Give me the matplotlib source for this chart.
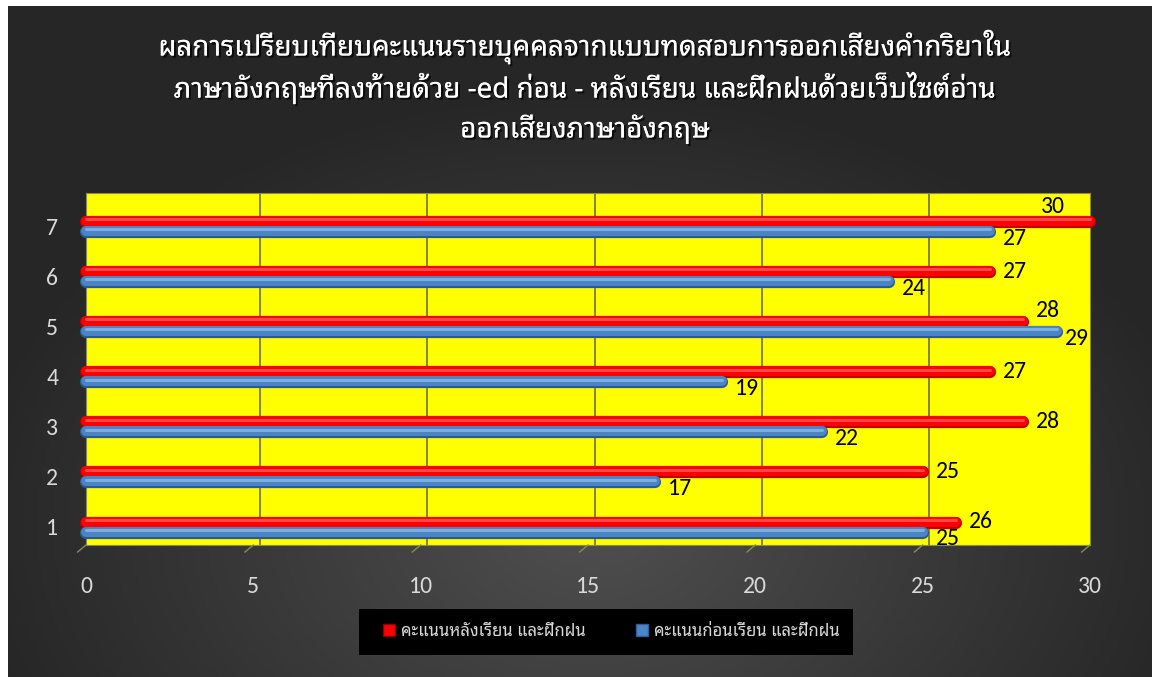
import matplotlib
matplotlib.use("Agg")
import matplotlib.pyplot as plt
import matplotlib.patheffects as pe
from matplotlib.patches import Rectangle
from matplotlib.lines import Line2D
import numpy as np
from matplotlib import font_manager

available = set(f.name for f in font_manager.fontManager.ttflist)


def pick(cands, default="DejaVu Sans"):
    for c in cands:
        if c in available:
            return c
    return default


thai_font = pick(["Noto Sans Thai Looped", "IBM Plex Sans Thai Looped", "Noto Sans Thai", "Sarabun", "Anuphan"])
num_font = pick(["Carlito", "Calibri", "Open Sans"])

# data
categories = [1, 2, 3, 4, 5, 6, 7]
after_scores = [26, 25, 28, 27, 28, 27, 30]    # red
before_scores = [25, 17, 22, 19, 29, 24, 27]   # blue
xticks = [0, 5, 10, 15, 20, 25, 30]
title_lines = [
    "ผลการเปรียบเทียบคะแนนรายบุคคลจากแบบทดสอบการออกเสียงคำกริยาใน",
    "ภาษาอังกฤษที่ลงท้ายด้วย -ed ก่อน - หลังเรียน และฝึกฝนด้วยเว็บไซต์อ่าน",
    "ออกเสียงภาษาอังกฤษ",
]
label_after = "คะแนนหลังเรียน และฝึกฝน"
label_before = "คะแนนก่อนเรียน และฝึกฝน"

W, H = 1152, 677
fig = plt.figure(figsize=(W / 100, H / 100), dpi=100)
fig.patch.set_facecolor("white")

# dark radial background
bg = fig.add_axes([8 / W, 0, (W - 8) / W, (H - 6) / H])
gx, gy = np.meshgrid(np.linspace(-1, 1, 300), np.linspace(-1, 1, 200))
r = np.sqrt(((gx - 0.02) / 1.1) ** 2 + ((gy + 0.55) / 1.3) ** 2)
r = np.clip(r, 0, 1)
shade = 0.31 - 0.16 * r
bg.imshow(np.dstack([shade, shade, shade]), aspect="auto", extent=[0, 1, 0, 1], origin="lower")
bg.set_axis_off()

# main plot area
ax = fig.add_axes([86 / W, (H - 545) / H, (1090 - 86) / W, (545 - 193) / H])
ax.set_facecolor("#ffff00")
ax.set_xlim(0, 30)
ax.set_ylim(0.64, 7.66)

for x in xticks[1:-1]:
    ax.axvline(x + 0.2, color="#7a7a3a", lw=1.3, zorder=1)
for s in ax.spines.values():
    s.set_color("#8a8a4a")
    s.set_linewidth(0.8)

y = np.array(categories, dtype=float)
off = 0.1


def cylinder(ypos, vals, dark, mid, light):
    z = 3
    for lw, col, dy in [(8.8, dark, -0.012), (7.2, mid, 0.008), (2.2, light, 0.04)]:
        lc = ax.hlines(ypos + dy, 0, vals, colors=col, lw=lw, zorder=z)
        lc.set_capstyle("round")
        lc.set_clip_on(False)
        z += 0.1


cylinder(y + off, np.array(after_scores), "#b80000", "#ff0000", "#ff4848")
cylinder(y - off, np.array(before_scores), "#2c5a8c", "#4a84c4", "#7eaee0")

# data labels
for yi, a, b in zip(y, after_scores, before_scores):
    ax_x = a + 0.75
    ay = yi + off
    if ax_x > 29.6:
        ax_x = a - 1.1
        ay = yi + 0.4
    elif b > a:
        ay = yi + 0.32
    ax.text(ax_x, ay, str(a), ha="center", va="center", fontsize=17,
            family=[num_font, "DejaVu Sans"], color="black", zorder=5)
    bx = b + 0.75
    by = yi - 0.24
    if b > a:
        bx = b + 0.6
    ax.text(bx, by, str(b), ha="center", va="center", fontsize=17,
            family=[num_font, "DejaVu Sans"], color="black", zorder=5)

ax.set_xticks(xticks)
ax.set_yticks(categories)
ax.tick_params(axis="both", length=0, colors="#d9d9d9", labelsize=17)
ax.tick_params(axis="x", pad=22)
ax.tick_params(axis="y", pad=20)
for lab in ax.get_xticklabels() + ax.get_yticklabels():
    lab.set_family([num_font, "DejaVu Sans"])

# small floor ticks below plot
for x in xticks:
    ax.plot([x, x - 0.25], [0.64, 0.5], color="#8a8a5a", lw=1, clip_on=False, zorder=2)

# title
shadow = [pe.withSimplePatchShadow(offset=(1.5, -1.5), shadow_rgbFace="black", alpha=0.7), pe.Normal()]
for i, line in enumerate(title_lines):
    fig.text(585 / W, 1 - (47 + 41 * i) / H, line, ha="center", va="center", fontsize=20,
             fontweight="bold", color="white", family=[thai_font, "DejaVu Sans"],
             path_effects=shadow)

# legend box
fig.patches.append(Rectangle((359 / W, (H - 655) / H), (853 - 359) / W, (655 - 609) / H,
                             transform=fig.transFigure, facecolor="black", edgecolor="none", zorder=0))
handles = [
    Line2D([], [], marker="s", ls="none", markersize=9, markerfacecolor="#ff0000", markeredgecolor="#900000"),
    Line2D([], [], marker="s", ls="none", markersize=9, markerfacecolor="#4a86c8", markeredgecolor="#2f5f95"),
]
leg = fig.legend(handles, [label_after, label_before], loc="center", ncol=2,
                 bbox_to_anchor=(611 / W, (H - 632) / H), frameon=False,
                 handlelength=0.8, handletextpad=0.3, columnspacing=3.0,
                 prop={"family": [thai_font, "DejaVu Sans"], "size": 12})
for t in leg.get_texts():
    t.set_color("#d9d9d9")

fig.savefig("out.png", dpi=100)
